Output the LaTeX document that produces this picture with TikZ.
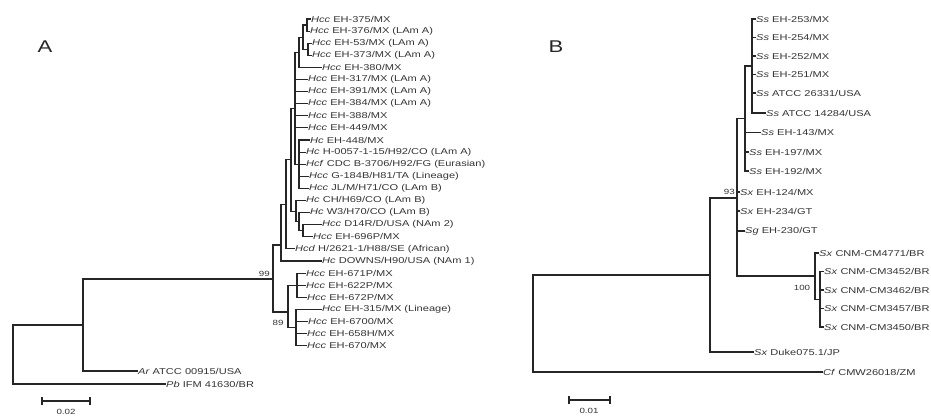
\documentclass[tikz,border=0pt]{standalone}
\usepackage{fontspec}
\setmainfont{Liberation Sans}[FakeStretch=1.3]
\newcommand\lblfont{\fontsize{8.5}{9}\selectfont}
\newcommand\tax[1]{\textit{#1}}
\begin{document}
\begin{tikzpicture}[x=1pt,y=-1pt,
  br/.style={line width=1.1pt,draw=black!85,line cap=rect},
  brb/.style={line width=1.4pt,draw=black!85,line cap=rect},
  brm/.style={line width=1.9pt,draw=black!85,line cap=rect},
  brt/.style={line width=2.6pt,draw=black!85,line cap=rect},
  lf/.style={anchor=west,inner sep=1pt,font=\lblfont,text=black!80},
  boot/.style={inner sep=0pt,font=\fontsize{7.5}{8}\selectfont,text=black!80},
  panel/.style={inner sep=0pt,font=\fontsize{17}{18}\selectfont,text=black!85}]
\useasboundingbox (0,0) rectangle (931,417);

% ---------------- Panel A ----------------
\node[panel] (pA) at (45,47) {A};

\node[lf] (a1)  at (310,19)    {\tax{Hcc} EH-375/MX};
\node[lf] (a2)  at (309,31.1)  {\tax{Hcc} EH-376/MX (LAm A)};
\node[lf] (a3)  at (311,43.2)  {\tax{Hcc} EH-53/MX (LAm A)};
\node[lf] (a4)  at (311,55.3)  {\tax{Hcc} EH-373/MX (LAm A)};
\node[lf] (a5)  at (321,67.4)  {\tax{Hcc} EH-380/MX};
\node[lf] (a6)  at (307,79.5)  {\tax{Hcc} EH-317/MX (LAm A)};
\node[lf] (a7)  at (307,91.6)  {\tax{Hcc} EH-391/MX (LAm A)};
\node[lf] (a8)  at (307,103.7) {\tax{Hcc} EH-384/MX (LAm A)};
\node[lf] (a9)  at (307,115.8) {\tax{Hcc} EH-388/MX};
\node[lf] (a10) at (307,127.9) {\tax{Hcc} EH-449/MX};
\node[lf] (a11) at (309,140)   {\tax{Hc} EH-448/MX};
\node[lf] (a12) at (305,152.1) {\tax{Hc} H-0057-1-15/H92/CO (LAm A)};
\node[lf] (a13) at (305,164.2) {\tax{Hcf} CDC B-3706/H92/FG (Eurasian)};
\node[lf] (a14) at (308,176.3) {\tax{Hcc} G-184B/H81/TA (Lineage)};
\node[lf] (a15) at (308,188.4) {\tax{Hcc} JL/M/H71/CO (LAm B)};
\node[lf] (a16) at (305,200.5) {\tax{Hc} CH/H69/CO (LAm B)};
\node[lf] (a17) at (309,212.6) {\tax{Hc} W3/H70/CO (LAm B)};
\node[lf] (a18) at (321,224.7) {\tax{Hcc} D14R/D/USA (NAm 2)};
\node[lf] (a19) at (312,236.8) {\tax{Hcc} EH-696P/MX};
\node[lf] (a20) at (294,248.9) {\tax{Hcd} H/2621-1/H88/SE (African)};
\node[lf] (a21) at (321,261)   {\tax{Hc} DOWNS/H90/USA (NAm 1)};
\node[lf] (a22) at (305,273.1) {\tax{Hcc} EH-671P/MX};
\node[lf] (a23) at (305,285.2) {\tax{Hcc} EH-622P/MX};
\node[lf] (a24) at (306,297.3) {\tax{Hcc} EH-672P/MX};
\node[lf] (a25) at (321,309.4) {\tax{Hcc} EH-315/MX (Lineage)};
\node[lf] (a26) at (307,321.5) {\tax{Hcc} EH-6700/MX};
\node[lf] (a27) at (306,333.6) {\tax{Hcc} EH-658H/MX};
\node[lf] (a28) at (306,345.7) {\tax{Hcc} EH-670/MX};
\node[lf] (ar)  at (137,371)   {\tax{Ar} ATCC 00915/USA};
\node[lf] (pb)  at (165,384)   {\tax{Pb} IFM 41630/BR};

\coordinate (T2) at (307,25);
\coordinate (T3) at (308,49.2);
\coordinate (T1) at (303,37.1);
\coordinate (T)  at (299,52.3);
\coordinate (X2) at (299,164.2);
\coordinate (X)  at (295,108.2);
\coordinate (Z)  at (303,230.7);
\coordinate (Y2) at (299,221.7);
\coordinate (Y)  at (296,211.1);
\coordinate (W)  at (291,159.7);
\coordinate (V)  at (286,204.3);
\coordinate (U)  at (281,245);
\coordinate (L1) at (297,285.2);
\coordinate (L2) at (296,327.6);
\coordinate (L)  at (288,312);
\coordinate (N99) at (273,279);
\coordinate (N83) at (83,325);
\coordinate (RA) at (13,354.5);

\foreach \c in {a1,a2} \draw[br] (T2) |- (\c.west);
\foreach \c in {a3,a4} \draw[br] (T3) |- (\c.west);
\draw[br] (T1) |- (T2); \draw[br] (T1) |- (T3);
\draw[br] (T) |- (T1); \draw[br] (T) |- (a5.west);
\foreach \c in {a11,a12,a13,a14,a15} \draw[br] (X2) |- (\c.west);
\draw[br] (X) |- (T); \draw[br] (X) |- (X2);
\foreach \c in {a6,a7,a8,a9,a10} \draw[br] (X) |- (\c.west);
\draw[br] (Z) |- (a18.west); \draw[br] (Z) |- (a19.west);
\draw[br] (Y2) |- (a17.west); \draw[br] (Y2) |- (Z);
\draw[br] (Y) |- (a16.west); \draw[br] (Y) |- (Y2);
\draw[br] (W) |- (X); \draw[br] (W) |- (Y);
\draw[br] (V) |- (W); \draw[br] (V) |- (a20.west);
\draw[br] (U) |- (V); \draw[br] (U) |- (a21.west);
\foreach \c in {a22,a23,a24} \draw[br] (L1) |- (\c.west);
\foreach \c in {a25,a26,a27,a28} \draw[br] (L2) |- (\c.west);
\draw[br] (L) |- (L1); \draw[br] (L) |- (L2);
\draw[br] (N99) |- (U); \draw[br] (N99) |- (L);
\draw[brb] (N83) |- (N99); \draw[brb] (N83) |- (ar.west);
\draw[brb] (RA) |- (N83); \draw[brb] (RA) |- (pb.west);

\node[boot,anchor=south east] (b99) at (270,277) {99};
\node[boot] (b89) at (278,323) {89};

\draw[br] (42,401) -- (90,401);
\draw[br] (42,398) -- (42,404);
\draw[br] (90,398) -- (90,404);
\node[boot] (sA) at (66,412) {0.02};

% ---------------- Panel B ----------------
\node[panel] (pB) at (556,47) {B};

\node[lf] (b1)  at (755,19)    {\tax{Ss} EH-253/MX};
\node[lf] (b2)  at (755,37.5)  {\tax{Ss} EH-254/MX};
\node[lf] (b3)  at (755,56)    {\tax{Ss} EH-252/MX};
\node[lf] (b4)  at (755,74.5)  {\tax{Ss} EH-251/MX};
\node[lf] (b5)  at (755,93)    {\tax{Ss} ATCC 26331/USA};
\node[lf] (b6)  at (765,113)   {\tax{Ss} ATCC 14284/USA};
\node[lf] (b7)  at (760,132.5) {\tax{Ss} EH-143/MX};
\node[lf] (b8)  at (748,152)   {\tax{Ss} EH-197/MX};
\node[lf] (b9)  at (748,171)   {\tax{Ss} EH-192/MX};
\node[lf] (b10) at (739,192)   {\tax{Sx} EH-124/MX};
\node[lf] (b11) at (739,211)   {\tax{Sx} EH-234/GT};
\node[lf] (b12) at (744,231)   {\tax{Sg} EH-230/GT};
\node[lf] (b13) at (818,253)   {\tax{Sx} CNM-CM4771/BR};
\node[lf] (b14) at (823,271.5) {\tax{Sx} CNM-CM3452/BR};
\node[lf] (b15) at (823,290)   {\tax{Sx} CNM-CM3462/BR};
\node[lf] (b16) at (823,308.5) {\tax{Sx} CNM-CM3457/BR};
\node[lf] (b17) at (823,327)   {\tax{Sx} CNM-CM3450/BR};
\node[lf] (b18) at (753,352)   {\tax{Sx} Duke075.1/JP};
\node[lf] (b19) at (822,372)   {\tax{Cf} CMW26018/ZM};

\coordinate (N4) at (752,66);
\coordinate (N3) at (745,118.5);
\coordinate (N2) at (737,197.75);
\coordinate (N6) at (820,299.25);
\coordinate (N5) at (815,276);
\coordinate (N1) at (710,275);
\coordinate (RB) at (533,323.5);

\foreach \c in {b1,b2,b3,b4,b5,b6} \draw[brb] (N4) |- (\c.west);
\draw[brb] (N3) |- (N4);
\foreach \c in {b7,b8,b9} \draw[brb] (N3) |- (\c.west);
\draw[brm] (N2) |- (N3);
\foreach \c in {b10,b11,b12} \draw[brb] (N2) |- (\c.west);
\draw[brm] (N2) |- (N5);
\draw[brb] (N5) |- (b13.west); \draw[brb] (N5) |- (N6);
\foreach \c in {b14,b15,b16,b17} \draw[brb] (N6) |- (\c.west);
\draw[brm] (N1) |- (N2); \draw[brm] (N1) |- (b18.west);
\draw[brt] (RB) |- (N1); \draw[brt] (RB) |- (b19.west);

\node[boot,anchor=south east] (b93) at (735,195) {93};
\node[boot] (b100) at (802,288) {100};

\draw[brb] (569,400) -- (610,400);
\draw[brb] (569,397) -- (569,403);
\draw[brb] (610,397) -- (610,403);
\node[boot] (sB) at (589,411) {0.01};
\end{tikzpicture}
\end{document}
